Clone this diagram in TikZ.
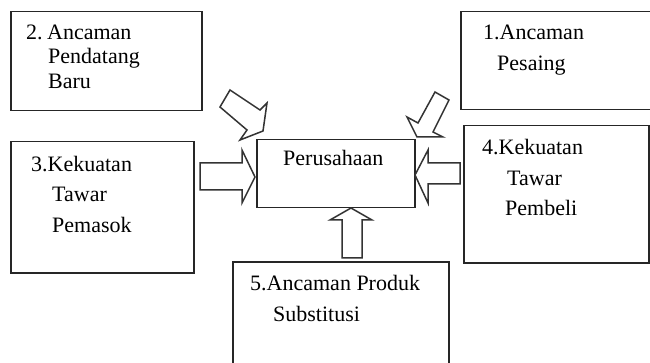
\documentclass[tikz,border=0pt]{standalone}
\usepackage{fontspec}
\setmainfont{Liberation Serif}
\frenchspacing
\begin{document}
\begin{tikzpicture}[x=1pt,y=-1pt,
  box/.style={draw=black!85,line width=1.5pt,inner sep=0pt,anchor=north west},
  barrow/.style={draw=black!80,line width=1.5pt,line join=miter},
  lbl/.style={anchor=base west,inner sep=0pt,font=\fontsize{22}{25}\selectfont}]
\clip (0,0) rectangle (650,363);
% boxes
\node[box,minimum width=191pt,minimum height=99pt] (b2) at (10,11) {};
\node[box,minimum width=200pt,minimum height=98pt] (b1) at (460,11) {};
\node[box,minimum width=183pt,minimum height=131pt] (b3) at (10,141) {};
\node[box,minimum width=185pt,minimum height=137pt] (b4) at (463,125) {};
\node[box,minimum width=158pt,minimum height=68pt] (bp) at (256,139) {};
\node[box,minimum width=216pt,minimum height=120pt] (b5) at (232,261) {};
% texts
\node[lbl] (t2a) at (26,40) {2.\hspace{4.5pt}Ancaman};
\node[lbl] (t2b) at (48,64) {Pendatang};
\node[lbl] (t2c) at (48,89) {Baru};
\node[lbl] (t1a) at (483,40) {1.Ancaman};
\node[lbl] (t1b) at (497,71) {Pesaing};
\node[lbl] (t3a) at (31,172) {3.Kekuatan};
\node[lbl] (t3b) at (52,202) {Tawar};
\node[lbl] (t3c) at (52,233) {Pemasok};
\node[lbl] (t4a) at (482,155) {4.Kekuatan};
\node[lbl] (t4b) at (507,186) {Tawar};
\node[lbl] (t4c) at (505,216) {Pembeli};
\node[lbl] (tp) at (283,166) {Perusahaan};
\node[lbl] (t5a) at (250,290) {5.Ancaman Produk};
\node[lbl] (t5b) at (273,321) {Substitusi};
% block arrows
\draw[barrow] (230,90) -- (260,110) -- (267,103) -- (263,131) -- (240,140) -- (247,130) -- (220,107) -- cycle;
\draw[barrow] (435,92) -- (449,100) -- (433,132) -- (443,137) -- (417,137) -- (407,117) -- (418,123) -- cycle;
\draw[barrow] (200,163) -- (242,163) -- (242,150) -- (255,177) -- (242,203) -- (242,190) -- (200,190) -- cycle;
\draw[barrow] (460,163) -- (428,163) -- (428,150) -- (415,175) -- (428,203) -- (428,184) -- (460,184) -- cycle;
\draw[barrow] (342,258) -- (342,220) -- (330,220) -- (351,208) -- (372,220) -- (362,220) -- (362,258) -- cycle;
\end{tikzpicture}
\end{document}
